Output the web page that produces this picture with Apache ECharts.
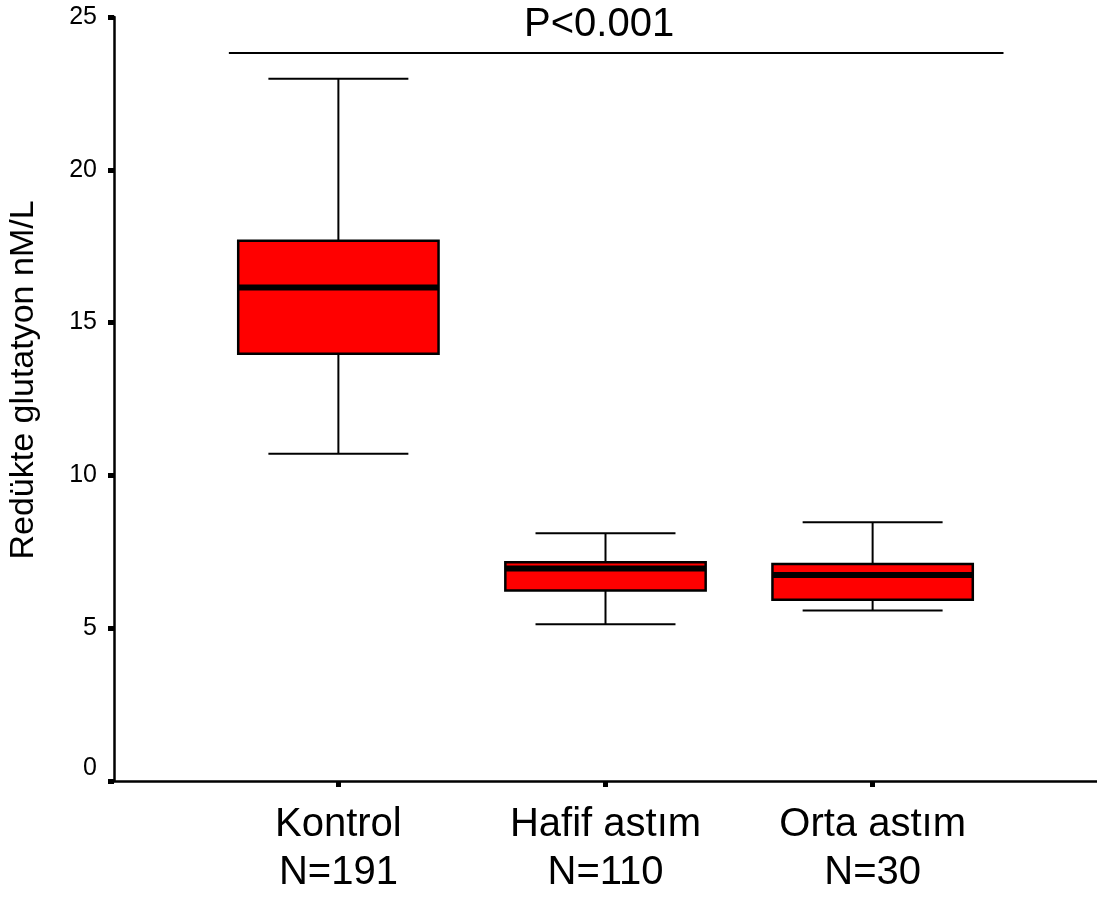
<!DOCTYPE html>
<html>
<head>
<meta charset="utf-8">
<title>Redükte glutatyon</title>
<script src="https://cdn.jsdelivr.net/npm/echarts@6/dist/echarts.min.js"></script>
<style>
  html, body { margin: 0; padding: 0; background: #fff; }
  #chart { width: 1097px; height: 899px; }
</style>
</head>
<body>
<div id="chart"></div>
<script>
// data
const categories = ["Kontrol", "Hafif astım", "Orta astım"];
const nCounts = [191, 110, 30];
const xPos = [1, 2, 3];
const lowerWhisker = [10.71, 5.13, 5.58];
const q1 = [13.98, 6.23, 5.93];
const median = [16.15, 6.95, 6.74];
const q3 = [17.68, 7.16, 7.1];
const upperWhisker = [22.98, 8.11, 8.47];

// significance bar
const pBarX = [0.59, 3.49];
const pBarY = 23.82;
const pLabel = "P<0.001";
const pLabelPos = [1.976, 24.75];

const font = "Arial, 'Liberation Sans', sans-serif";

let boxData = xPos.map((x, i) => [x, lowerWhisker[i], q1[i], median[i], q3[i], upperWhisker[i]]);

let chart = echarts.init(document.getElementById("chart"));

// 画箱线
function renderBox(params, api) {
  let x = api.value(0);
  let pLow = api.coord([x, api.value(1)]);
  let pQ1 = api.coord([x, api.value(2)]);
  let pMed = api.coord([x, api.value(3)]);
  let pQ3 = api.coord([x, api.value(4)]);
  let pHigh = api.coord([x, api.value(5)]);
  let boxW = api.size([0.75, 0])[0];
  let capW = api.size([0.524, 0])[0];
  let cx = pMed[0];
  let line = { stroke: "#000", lineWidth: 2 };
  return {
    type: "group",
    children: [
      { type: "line", shape: { x1: cx, y1: pHigh[1], x2: cx, y2: pQ3[1] }, style: line },
      { type: "line", shape: { x1: cx, y1: pQ1[1], x2: cx, y2: pLow[1] }, style: line },
      { type: "line", shape: { x1: cx - capW / 2, y1: pHigh[1], x2: cx + capW / 2, y2: pHigh[1] }, style: line },
      { type: "line", shape: { x1: cx - capW / 2, y1: pLow[1], x2: cx + capW / 2, y2: pLow[1] }, style: line },
      {
        type: "rect",
        shape: { x: cx - boxW / 2, y: pQ3[1], width: boxW, height: pQ1[1] - pQ3[1] },
        style: { fill: "#ff0000", stroke: "#000", lineWidth: 2.5 }
      },
      { type: "line", shape: { x1: cx - boxW / 2, y1: pMed[1], x2: cx + boxW / 2, y2: pMed[1] }, style: { stroke: "#000", lineWidth: 6 } }
    ]
  };
}

let option = {
  animation: false,
  backgroundColor: "#fff",
  grid: { left: 114, right: 0, top: 17, bottom: 118, outerBoundsMode: "none", containLabel: false },
  xAxis: {
    type: "value",
    min: 0.16,
    max: 3.84,
    splitLine: { show: false },
    axisLine: { show: true, lineStyle: { color: "#000", width: 2.5 } },
    axisTick: { show: true, customValues: xPos, length: 6, lineStyle: { color: "#000", width: 5 } },
    axisLabel: {
      customValues: xPos,
      margin: 20,
      fontFamily: font,
      fontSize: 40,
      lineHeight: 48,
      color: "#000",
      formatter: function (v) {
        let i = xPos.indexOf(Math.round(v));
        return categories[i] + "\nN=" + nCounts[i];
      }
    }
  },
  yAxis: {
    type: "value",
    min: 0,
    max: 25,
    interval: 5,
    name: "Redükte glutatyon nM/L",
    nameLocation: "middle",
    nameRotate: 90,
    nameGap: 73,
    nameTextStyle: { fontFamily: font, fontSize: 34, color: "#000", padding: [0, 0, 0, 38] },
    splitLine: { show: false },
    axisLine: { show: true, lineStyle: { color: "#000", width: 2.5 } },
    axisTick: { show: true, length: 6, lineStyle: { color: "#000", width: 5 } },
    axisLabel: {
      margin: 17,
      fontFamily: font,
      fontSize: 25,
      color: "#000",
      formatter: function (v) {
        return v === 0 ? "{z|0}" : String(v);
      },
      rich: { z: { fontFamily: font, fontSize: 25, color: "#000", padding: [0, 0, 26, 0] } }
    }
  },
  series: [
    {
      type: "custom",
      name: "box",
      renderItem: renderBox,
      encode: { x: 0, y: [1, 2, 3, 4, 5] },
      data: boxData,
      z: 5
    },
    {
      type: "line",
      name: "pbar",
      data: pBarX.map(x => [x, pBarY]),
      symbol: "none",
      lineStyle: { color: "#000", width: 2 },
      silent: true
    },
    {
      type: "custom",
      name: "plabel",
      data: [pLabelPos],
      renderItem: function (params, api) {
        let p = api.coord([api.value(0), api.value(1)]);
        return {
          type: "text",
          x: p[0],
          y: p[1],
          style: {
            text: pLabel,
            fontFamily: font,
            fontSize: 40,
            fill: "#000",
            align: "center",
            verticalAlign: "middle"
          }
        };
      }
    }
  ]
};
chart.setOption(option);
</script>
</body>
</html>
